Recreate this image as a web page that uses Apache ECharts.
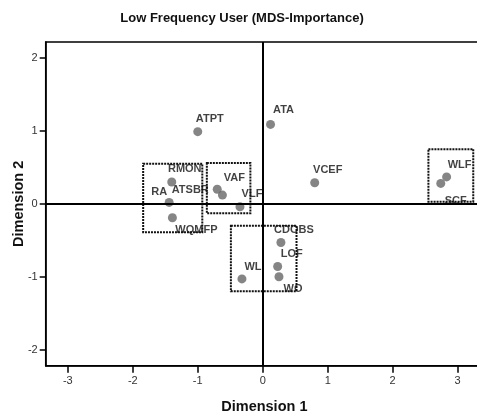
<!DOCTYPE html>
<html>
<head>
<meta charset="utf-8">
<script src="https://cdn.jsdelivr.net/npm/echarts@6/dist/echarts.min.js"></script>
<style>
html,body{margin:0;padding:0;background:#fff;}
#chart{width:477px;height:416px;}
</style>
</head>
<body>
<div id="chart"></div>
<script>
// ---- data ----
var pointNames = ['ATPT','ATA','RMON','RA','WQMFP','ATSBR','VAF','VLF','VCEF','WLF','SCF','CDOBS','LOF','WO','WL'];
var dimension1 = [-1.00, 0.12, -1.40, -1.44, -1.39, -0.70, -0.62, -0.35, 0.80, 2.83, 2.74, 0.28, 0.23, 0.25, -0.32];
var dimension2 = [0.99, 1.09, 0.30, 0.02, -0.19, 0.20, 0.12, -0.04, 0.29, 0.37, 0.28, -0.53, -0.86, -1.00, -1.03];
var xTicks = [-3, -2, -1, 0, 1, 2, 3];
var yTicks = [-2, -1, 0, 1, 2];
// cluster boxes: [x1, y1, x2, y2] in data units
var clusterBoxes = [
  [-1.84, 0.55, -0.93, -0.39],
  [-0.86, 0.56, -0.19, -0.13],
  [-0.49, -0.30, 0.52, -1.20],
  [2.55, 0.75, 3.24, 0.03]
];

// ---- styling (label placement in pixels) ----
var labelOffsets = {
  ATPT:[12,-13], ATA:[13,-14], VCEF:[13,-13], RMON:[13,-13], RA:[-10,-10],
  WQMFP:[24,12], ATSBR:[-27,1], VAF:[12,-17], VLF:[12,-13], CDOBS:[13,-13],
  LOF:[14,-13], WO:[14,12], WL:[11,-12], WLF:[13,-12], SCF:[15,18]
};

var seriesData = pointNames.map(function(n, i){
  return {
    name: n,
    value: [dimension1[i], dimension2[i]],
    label: { offset: labelOffsets[n] }
  };
});

var chart = echarts.init(document.getElementById('chart'), null, {renderer:'canvas'});
var font = 'Liberation Sans, Arial, sans-serif';
chart.setOption({
  backgroundColor: '#fff',
  animation: false,
  title: {
    text: 'Low Frequency User (MDS-Importance)',
    left: 237, textAlign: 'center',
    top: 7,
    textStyle: { fontFamily: font, fontSize: 13, fontWeight: 'bold', color: '#111' }
  },
  grid: {
    left: 45.7, right: -6, top: 42, bottom: 50.3,
    containLabel: false,
    outerBoundsMode: 'none',
    show: true, borderColor: '#000', borderWidth: 1.5, backgroundColor: 'transparent'
  },
  xAxis: {
    type: 'value', min: -3.34, max: 3.39,
    name: 'Dimension 1', nameLocation: 'middle', nameGap: 34, nameMoveOverlap: false,
    nameTextStyle: { fontFamily: font, fontSize: 14.5, fontWeight: 'bold', color: '#111' },
    axisLine: { show: true, onZero: false, lineStyle: { color: '#000', width: 1.5 } },
    axisTick: { show: true, length: 7, customValues: xTicks, lineStyle: { color: '#000', width: 1.5 } },
    axisLabel: { customValues: xTicks, margin: 10, fontFamily: font, fontSize: 11, color: '#333' },
    splitLine: { show: false }
  },
  yAxis: {
    type: 'value', min: -2.22, max: 2.22,
    name: 'Dimension 2', nameLocation: 'middle', nameGap: 19, nameRotate: 90, nameMoveOverlap: false,
    nameTextStyle: { fontFamily: font, fontSize: 14.5, fontWeight: 'bold', color: '#111' },
    axisLine: { show: true, onZero: false, lineStyle: { color: '#000', width: 1.5 } },
    axisTick: { show: true, length: 6, customValues: yTicks, lineStyle: { color: '#000', width: 1.5 } },
    axisLabel: { customValues: yTicks, margin: 8, fontFamily: font, fontSize: 11, color: '#333' },
    splitLine: { show: false }
  },
  series: [{
    type: 'scatter',
    symbol: 'circle',
    symbolSize: 9,
    itemStyle: { color: '#666' },
    label: {
      show: true,
      position: 'inside',
      align: 'center',
      verticalAlign: 'middle',
      formatter: '{b}',
      fontFamily: font, fontSize: 11, fontWeight: 'bold', color: '#111'
    },
    data: seriesData,
    markLine: {
      silent: true, symbol: 'none', animation: false,
      label: { show: false },
      lineStyle: { color: '#000', width: 2, type: 'solid' },
      emphasis: { disabled: true },
      data: [{ xAxis: 0 }, { yAxis: 0 }]
    },
    markArea: {
      silent: true,
      itemStyle: { color: 'rgba(0,0,0,0)', borderColor: '#111', borderWidth: 2, borderType: [2, 1] },
      emphasis: { disabled: true },
      data: clusterBoxes.map(function(b){ return [{ coord: [b[0], b[1]] }, { coord: [b[2], b[3]] }]; })
    },
    z: 3
  }]
});
</script>
</body>
</html>
